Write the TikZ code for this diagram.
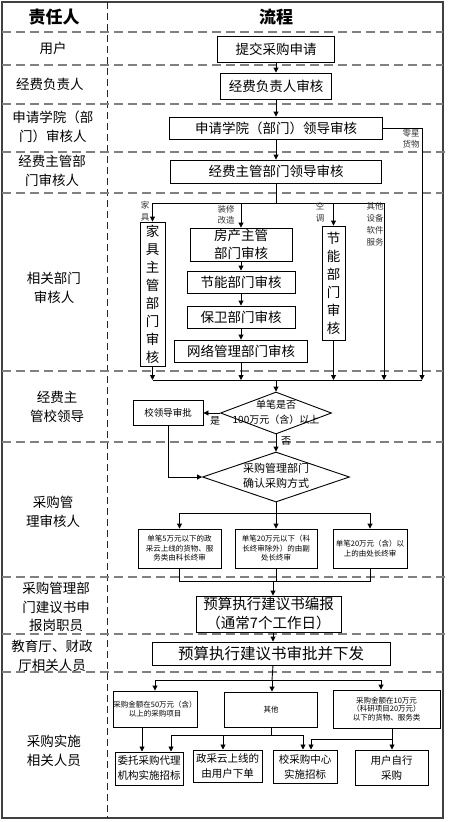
\documentclass[tikz,border=0pt]{standalone}
\usepackage{fontspec}
\setmainfont{Noto Sans CJK SC}
\usetikzlibrary{arrows.meta,shapes.geometric}
\begin{document}
\begin{tikzpicture}[x=1pt,y=-1pt,
  box/.style={draw, line width=0.9pt, inner sep=0pt, align=center, font=\fontsize{13.5}{18}\selectfont},
  vbox/.style={draw, line width=0.9pt, inner sep=0pt, align=center, font=\fontsize{13.5}{18}\selectfont},
  sbox/.style={draw, line width=0.9pt, inner sep=0pt, align=center, font=\fontsize{7.5}{9.5}\selectfont},
  mbox/.style={draw, line width=1pt, inner sep=0pt, align=center, font=\fontsize{10.5}{15}\selectfont},
  arr/.style={-{Triangle[length=5pt,width=5pt]}, line width=0.9pt},
  ln/.style={line width=0.9pt},
  hdash/.style={draw=gray, line width=1.4pt, dash pattern=on 9pt off 5pt},
  vdash/.style={draw=black!85, line width=1pt, dash pattern=on 7pt off 4pt},
  frame/.style={draw=black!75, line width=1.4pt},
  rowlab/.style={align=center, font=\fontsize{13.5}{18.5}\selectfont},
  hdr/.style={font=\fontsize{17}{20}\selectfont\bfseries},
  tiny/.style={align=center, inner sep=0pt, font=\fontsize{8.5}{11.5}\selectfont, text=black!80}
]
\useasboundingbox (0,0) rectangle (449,822);

% grid
\draw[frame] (2,2) rectangle (443,818);
\draw[vdash] (107,2) -- (107,818);
\foreach \yy in {32,65,104,193,371,442,672} \draw[hdash] (2,\yy) -- (443,\yy);
\foreach \yy in {152,577,634} \draw[hdash] (2,\yy) -- (449,\yy);

% headers and row labels
\node[hdr] (h1) at (54,17) {责任人};
\node[hdr] (h2) at (276,17) {流程};
\node[rowlab] (r1) at (53,48) {用户};
\node[rowlab] (r2) at (50,84) {经费负责人};
\node[rowlab] (r3) at (53,127) {申请学院（部\\门）审核人};
\node[rowlab] (r4) at (52,171) {经费主管部\\门审核人};
\node[rowlab] (r5) at (54,288) {相关部门\\审核人};
\node[rowlab] (r6) at (57,407) {经费主\\管校领导};
\node[rowlab] (r7) at (53,512) {采购管\\理审核人};
\node[rowlab] (r8) at (56,607) {采购管理部\\门建议书申\\报岗职员};
\node[rowlab] (r9) at (52,656) {教育厅、财政\\厅相关人员};
\node[rowlab] (r10) at (54,751) {采购实施\\相关人员};

% top chain
\node[box, minimum width=117, minimum height=26] (submit) at (276,49) {提交采购申请};
\node[box, minimum width=111, minimum height=26] (fundhead) at (276,86) {经费负责人审核};
\node[box, minimum width=213, minimum height=22] (college) at (276,128) {申请学院（部门）领导审核};
\node[box, minimum width=211, minimum height=23] (fundmgr) at (276,171.5) {经费主管部门领导审核};
\draw[arr] (submit.south) -- (fundhead.north);
\draw[arr] (fundhead.south) -- (college.north);
\draw[arr] (college.south) -- (fundmgr.north);

% related departments
\node[vbox, minimum width=25, minimum height=144] (furn) at (152.5,294) {家\\具\\主\\管\\部\\门\\审\\核};
\node[box, minimum width=102, minimum height=33] (house) at (241,244.5) {房产主管\\部门审核};
\node[box, minimum width=108, minimum height=22] (energy1) at (241,282) {节能部门审核};
\node[box, minimum width=108, minimum height=22] (security) at (241,317) {保卫部门审核};
\node[box, minimum width=133, minimum height=22] (network) at (241,351) {网络管理部门审核};
\node[vbox, minimum width=23, minimum height=114] (energy2) at (333.5,283) {节\\能\\部\\门\\审\\核};

\coordinate (br) at (276,203);
\coordinate (brL) at (152.5,203);
\coordinate (brR) at (384,203);
\draw[ln] (fundmgr.south) -- (br);
\draw[ln] (brL) -- (brR);
\draw[arr] (brL) -- (furn.north);
\draw[arr] (house.north |- br) -- (house.north);
\draw[arr] (energy2.north |- br) -- (energy2.north);
\draw[arr] (house.south) -- (energy1.north);
\draw[arr] (energy1.south) -- (security.north);
\draw[arr] (security.south) -- (network.north);

\node[tiny] (t1) at (145,211) {家\\具};
\node[tiny] (t2) at (226,215) {装修\\改造};
\node[tiny] (t3) at (320,212) {空\\调};
\node[tiny, font=\fontsize{8.5}{12}\selectfont] (t4) at (375,224) {其他\\设备\\软件\\服务};
\node[tiny] (t5) at (411,139) {零星\\货物};

% collect
\coordinate (cL) at (152.5,380);
\coordinate (cR) at (422,380);
\coordinate (cM) at (276,380);
\coordinate (zx) at (422,128);
\draw[arr] (furn.south) -- (furn.south |- cL);
\draw[arr] (network.south) -- (network.south |- cL);
\draw[arr] (energy2.south) -- (energy2.south |- cL);
\draw[arr] (brR) -- (brR |- cL);
\draw[arr] (college.east) -- (zx) -- (cR);
\draw[ln] (cL) -- (cR);

% decision 1
\node[diamond, draw, line width=0.9pt, minimum width=111, minimum height=42, inner sep=0pt] (d1) at (276,413) {};
\node[align=center, inner sep=0pt, font=\fontsize{10}{15}\selectfont] (d1t) at (276,412.5) {单笔是否\\100万元（含）以上};
\draw[arr] (cM) -- (d1.north);
\node[mbox, line width=0.9pt, font=\fontsize{9.5}{12}\selectfont, minimum width=70, minimum height=25] (lead) at (168,413) {校领导审批};
\draw[arr] (d1.west) -- (lead.east);
\node[font=\fontsize{10}{12}\selectfont, inner sep=0pt] (yes) at (215,421) {是};
\node[font=\fontsize{10}{12}\selectfont, inner sep=0pt] (no) at (286,441) {否};

% decision 2
\node[diamond, draw, line width=0.9pt, minimum width=147, minimum height=50, inner sep=0pt] (d2) at (276,477) {};
\node[align=center, inner sep=0pt, font=\fontsize{11}{15.5}\selectfont] (d2t) at (276,476) {采购管理部门\\确认采购方式};
\draw[arr] (d1.south) -- (d2.north);
\draw[arr] (lead.south) |- (d2.west);

% three approval levels
\node[sbox, minimum width=83, minimum height=39] (A) at (179.5,548.5) {单笔5万元以下的政\\采云上线的货物、服\\务类由科长终审};
\node[sbox, minimum width=82, minimum height=39] (B) at (276,548.5) {单笔20万元以下（科\\长终审除外）的由副\\处长终审};
\node[sbox, minimum width=74, minimum height=39] (C) at (370,548.5) {单笔20万元（含）以\\上的由处长终审};
\coordinate (b2) at (276,513);
\draw[ln] (d2.south) -- (b2);
\draw[ln] (A.north |- b2) -- (C.north |- b2);
\draw[arr] (A.north |- b2) -- (A.north);
\draw[arr] (b2) -- (B.north);
\draw[arr] (C.north |- b2) -- (C.north);

\coordinate (j2) at (273,581);
\draw[ln] (A.south) -- (A.south |- j2) -- (C.south |- j2) -- (C.south);
\draw[ln] (B.south) -- (B.south |- j2);

% budget
\node[box, font=\fontsize{14.5}{19}\selectfont, minimum width=145, minimum height=36] (bud1) at (268.5,614) {预算执行建议书编报\\（通常7个工作日）};
\node[box, font=\fontsize{15.5}{19}\selectfont, minimum width=238, minimum height=23] (bud2) at (271,653.5) {预算执行建议书审批并下发};
\draw[arr] (j2) -- (j2 |- bud1.north);
\draw[arr] (j2 |- bud1.south) -- (j2 |- bud2.north);

% implementation
\node[sbox, font=\fontsize{7.5}{9}\selectfont, minimum width=84, minimum height=36] (D) at (155,709) {采购金额在50万元（含）\\以上的采购项目};
\node[sbox, minimum width=93, minimum height=35] (E) at (271,709.5) {其他};
\node[sbox, font=\fontsize{7.5}{8.8}\selectfont, minimum width=107, minimum height=38] (F) at (386.5,709) {采购金额在10万元\\（科研项目20万元）\\以下的货物、服务类};
\coordinate (b3) at (272,680);
\coordinate (b3L) at (155,680);
\coordinate (b3R) at (381,680);
\draw[ln] (j2 |- bud2.south) -- (b3);
\draw[ln] (b3L) -- (b3R);
\draw[arr] (b3L) -- (D.north);
\draw[arr] (b3) -- (b3 |- E.north);
\draw[arr] (b3R) -- (b3R |- F.north);

\node[mbox, minimum width=68, minimum height=33] (G) at (149,768.5) {委托采购代理\\机构实施招标};
\node[mbox, minimum width=69, minimum height=32] (H) at (227.5,766) {政采云上线的\\由用户下单};
\node[mbox, minimum width=64, minimum height=33] (I) at (305,766.5) {校采购中心\\实施招标};
\node[mbox, minimum width=73, minimum height=35] (J) at (391.5,767.5) {用户自行\\采购};

\coordinate (dG) at (142,727);
\draw[arr] (dG) -- (dG |- G.north);
\coordinate (eM) at (271,735);
\coordinate (eL) at (171,735);
\coordinate (eH) at (223,735);
\coordinate (eR) at (303,735);
\draw[ln] (E.south) -- (eM);
\draw[ln] (eL) -- (eR);
\draw[arr] (eL) -- (eL |- G.north);
\draw[arr] (eH) -- (eH |- H.north);
\draw[arr] (eR) -- (eR |- I.north);
\coordinate (f1) at (392,739);
\coordinate (fI) at (311,739);
\draw[ln] (f1 |- F.south) -- (f1);
\draw[arr] (f1) -- (f1 |- J.north);
\draw[arr] (f1) -- (fI) -- (fI |- I.north);
\end{tikzpicture}
\end{document}
